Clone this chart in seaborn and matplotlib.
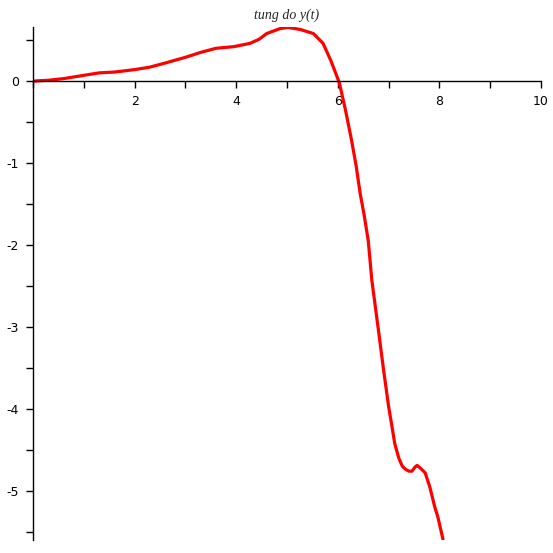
"""
Trace de la courbe y(t) facon Maple
"""
import matplotlib
matplotlib.use('Agg')
import matplotlib.pyplot as plt
import seaborn as sns
import pandas as pd
from matplotlib.ticker import MultipleLocator, FuncFormatter

# valeurs
t_vals = [0.0, 0.3, 0.6, 1.0, 1.3, 1.6, 2.0, 2.3, 2.6, 3.0, 3.3, 3.6, 3.95,
          4.27, 4.45, 4.6, 4.86, 5.02, 5.26, 5.52, 5.71, 5.87, 6.03, 6.15,
          6.27, 6.36, 6.44, 6.52, 6.6, 6.67, 6.8, 6.9, 7.0, 7.07, 7.12, 7.2,
          7.27, 7.34, 7.4, 7.46, 7.52, 7.56, 7.62, 7.72, 7.81, 7.91, 7.97,
          8.07]
y_vals = [0.0, 0.01, 0.03, 0.07, 0.1, 0.11, 0.14, 0.17, 0.22, 0.29, 0.35,
          0.40, 0.42, 0.46, 0.51, 0.58, 0.64, 0.655, 0.63, 0.58, 0.46, 0.24,
          -0.02, -0.35, -0.72, -1.03, -1.37, -1.64, -1.95, -2.43, -3.04,
          -3.52, -3.97, -4.23, -4.42, -4.6, -4.7, -4.74, -4.76, -4.76,
          -4.71, -4.69, -4.72, -4.78, -4.95, -5.2, -5.32, -5.59]

x_ticks = [2, 4, 6, 8, 10]
y_ticks = [0, -1, -2, -3, -4, -5]

df = pd.DataFrame({'t': t_vals, 'y': y_vals})

sns.set_style('white')

fig = plt.figure(figsize=(5.53, 5.53), dpi=100)
ax = fig.add_axes([33 / 553, 13 / 553, 508 / 553, 513 / 553])

sns.lineplot(data=df, x='t', y='y', color='#ff0000', linewidth=2.3, ax=ax)

ax.set_xlim(0, 10)
ax.set_ylim(-5.6, 0.66)

# axes qui se croisent a l'origine
ax.spines['left'].set_position(('data', 0))
ax.spines['bottom'].set_position(('data', 0))
ax.spines['top'].set_visible(False)
ax.spines['right'].set_visible(False)
for s in ('left', 'bottom'):
    ax.spines[s].set_linewidth(1.0)
    ax.spines[s].set_color('black')

ax.set_xticks(x_ticks)
ax.set_yticks(y_ticks)
ax.xaxis.set_minor_locator(MultipleLocator(1))
ax.yaxis.set_minor_locator(MultipleLocator(0.5))
ax.yaxis.set_major_formatter(FuncFormatter(lambda v, p: f'{int(v)}'))
ax.tick_params(which='both', bottom=True, left=True, direction='out',
               length=5, width=1, color='black', labelcolor='black',
               labelsize=9, pad=5)
for lbl in ax.get_xticklabels() + ax.get_yticklabels():
    lbl.set_family('DejaVu Sans')

ax.set_xlabel('')
ax.set_ylabel('')
ax.set_title('tung do y(t)', fontsize=10, family='Liberation Serif',
             style='italic', pad=6)

plt.savefig('out.png', dpi=100)
